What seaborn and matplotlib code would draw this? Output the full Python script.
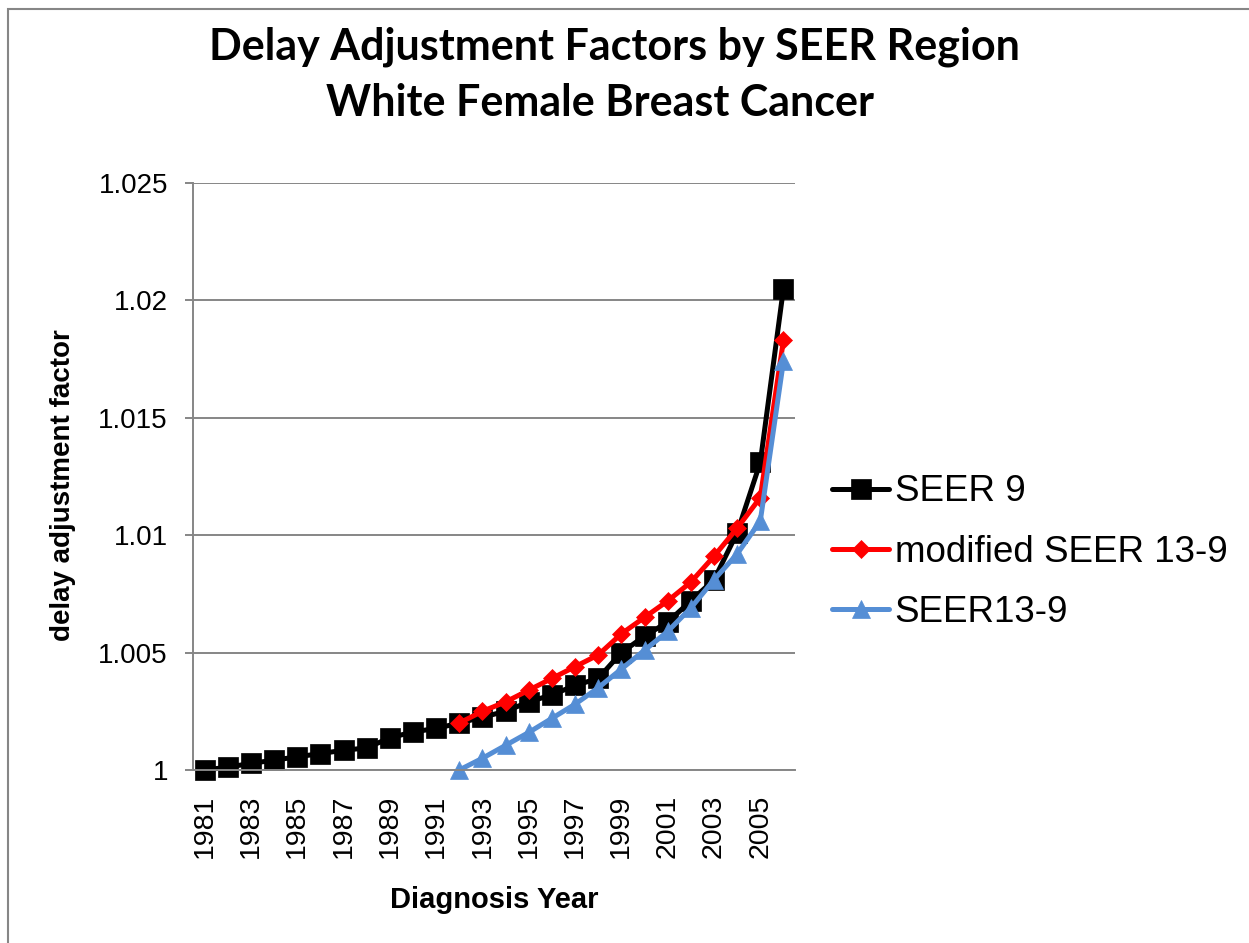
"""
Delay adjustment factors by SEER region, white female breast cancer.
"""

import matplotlib
matplotlib.use("Agg")
import numpy as np
import pandas as pd
import matplotlib.pyplot as plt
import seaborn as sns
from matplotlib.patches import Rectangle
from matplotlib.ticker import FuncFormatter

# ---- data ----
years_seer9 = list(range(1981, 2007))
seer9 = [1.00000, 1.00012, 1.00028, 1.00042, 1.00056, 1.00070, 1.00084,
         1.00094, 1.00137, 1.00162, 1.00177, 1.00200, 1.00225, 1.00250,
         1.00290, 1.00320, 1.00360, 1.00390, 1.00500, 1.00570, 1.00630,
         1.00720, 1.00810, 1.01010, 1.01310, 1.02050]

years_seer13 = list(range(1992, 2007))
modified_seer13_9 = [1.0020, 1.0025, 1.0029, 1.0034, 1.0039, 1.0044, 1.0049,
                     1.0058, 1.0065, 1.0072, 1.0080, 1.0091, 1.0103, 1.0116,
                     1.0183]
seer13_9 = [1.0000, 1.0005, 1.00105, 1.0016, 1.0022, 1.0028, 1.0035, 1.0043,
            1.0051, 1.0059, 1.0069, 1.0081, 1.0092, 1.0106, 1.0174]

series_names = ["SEER 9", "modified SEER 13-9", "SEER13-9"]
year_ticks = list(range(1981, 2006, 2))
y_ticks = [1.0, 1.005, 1.01, 1.015, 1.02, 1.025]

sns.set_theme(style="white")
plt.rcParams["font.family"] = ["Liberation Sans", "DejaVu Sans"]
plt.rcParams.update({"text.color": "black", "axes.labelcolor": "black",
                     "xtick.color": "black", "ytick.color": "black"})

GRID = "#868686"
styles = [
    dict(color="black", marker="s", markersize=14.5),
    dict(color="#FF0000", marker="D", markersize=9.5),
    dict(color="#558ED5", marker="^", markersize=13),
]

fig = plt.figure(figsize=(12.49, 9.43), dpi=100)
ax = fig.add_axes([193 / 1249, 1 - 770 / 943, (795 - 193) / 1249, (770 - 183) / 943])

data = [(years_seer9, seer9), (years_seer13, modified_seer13_9), (years_seer13, seer13_9)]
for (xs, ys), name, st in zip(data, series_names, styles):
    df = pd.DataFrame({"year": xs, "factor": ys})
    sns.lineplot(data=df, x="year", y="factor", ax=ax, label=name,
                 color=st["color"], linewidth=3.6, marker=st["marker"],
                 markersize=st["markersize"], markeredgecolor=st["color"],
                 markerfacecolor=st["color"], markeredgewidth=0.5, clip_on=False)

ax.set_xlim(1980.5, 2006.5)
ax.set_ylim(1.0, 1.025)
ax.set_xticks(year_ticks)
ax.set_xticklabels([str(y) for y in year_ticks], rotation=90, fontsize=20.5)
ax.set_yticks(y_ticks)
ax.yaxis.set_major_formatter(FuncFormatter(lambda v, p: f"{v:g}"))
ax.tick_params(axis="y", labelsize=20, length=6, width=1.4, color=GRID,
               direction="out", pad=12, left=True)
ax.tick_params(axis="x", length=0, pad=18)

ax.grid(axis="y", color=GRID, linewidth=1.4)
ax.set_axisbelow(True)
for side in ["top", "right"]:
    ax.spines[side].set_visible(False)
for side in ["left", "bottom"]:
    ax.spines[side].set_color(GRID)
    ax.spines[side].set_linewidth(1.4)

ax.set_xlabel("Diagnosis Year", fontsize=21, fontweight="bold", labelpad=20)
ax.set_ylabel("delay adjustment factor", fontsize=20, fontweight="bold")
ax.yaxis.set_label_coords(-0.194, 0.4855)

handles, labels = ax.get_legend_handles_labels()
ax.get_legend().remove()
fig.legend(handles, labels, loc="center left", bbox_to_anchor=(832 / 1249, 1 - 552 / 943),
           frameon=False, fontsize=26.5, handlelength=1.55, handletextpad=0.15,
           labelspacing=0.68, borderaxespad=0, borderpad=0)

title_font = dict(ha="center", va="center", fontsize=31, fontweight="bold",
                  family=["Lato", "DejaVu Sans"], color="black")
fig.text(614 / 1249, 1 - 47 / 943, "Delay Adjustment Factors by SEER Region", **title_font)
fig.text(600 / 1249, 1 - 103 / 943, "White Female Breast Cancer", **title_font)

# chart-area frame (only top and left edges fall inside the picture)
fig.patches.append(Rectangle((8 / 1249, -0.1), 1.2, 1.1 - 9 / 943, transform=fig.transFigure,
                             fill=False, edgecolor=GRID, linewidth=1.5))

fig.savefig("out.png", dpi=100)
